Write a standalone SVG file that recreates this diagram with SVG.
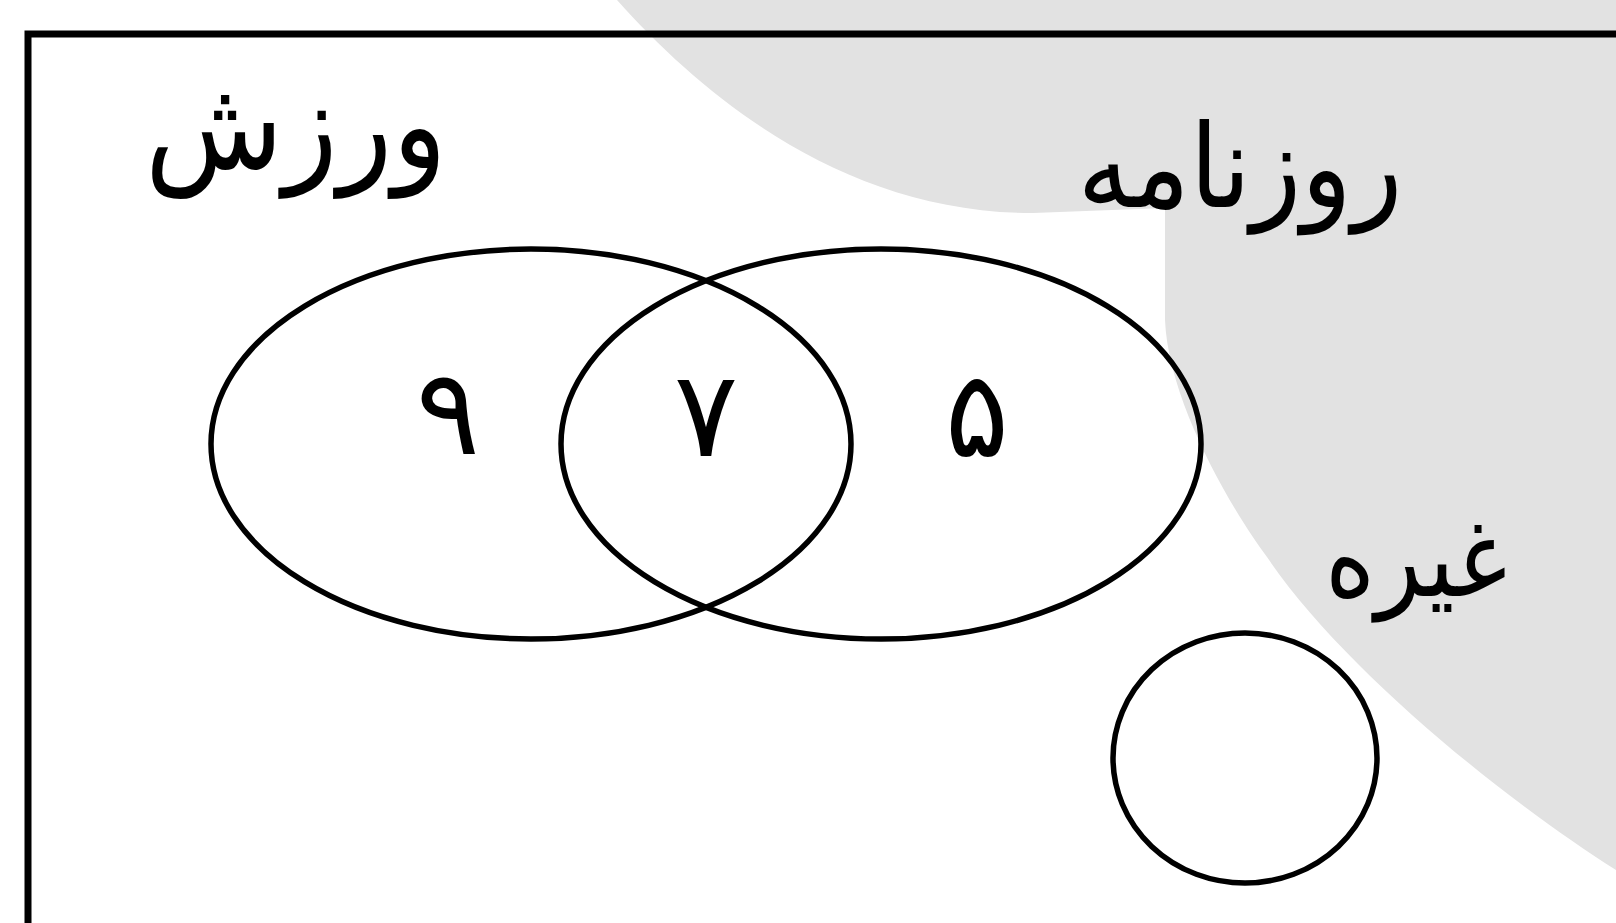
<svg xmlns="http://www.w3.org/2000/svg" width="1616" height="923" viewBox="0 0 1616 923">
  <style>
    .set { fill: none; stroke: #000; stroke-width: 5.5; }
    .frame { fill: none; stroke: #000; stroke-width: 7; stroke-linejoin: miter; }
    .word { font-family: "DejaVu Sans", sans-serif; fill: #000; text-anchor: middle; }
    .num { font-family: "DejaVu Sans", sans-serif; font-size: 120px; fill: #000; text-anchor: middle; }
  </style>

  <!-- page -->
  <rect width="1616" height="923" fill="#ffffff"/>

  <!-- light grey backdrop shape in the upper right -->
  <g id="backdrop">
    <path fill="#e2e2e2" d="M 617,0 C 710,104 850,213 1033,213 L 1165,208 L 1165,320 C 1168,400 1231,509 1267,557 C 1342,668 1505,800 1616,870 L 1616,0 Z"/>
  </g>

  <!-- universal set border -->
  <g id="universe">
    <path class="frame" d="M 28,930 L 28,34 L 1625,34"/>
  </g>

  <!-- set: sport -->
  <g id="set-sport">
    <ellipse class="set" cx="531" cy="444" rx="320" ry="195"/>
    <text class="word" x="296" y="168" font-size="125" textLength="302" lengthAdjust="spacingAndGlyphs">ورزش</text>
    <text class="num" x="448" y="454">۹</text>
  </g>

  <!-- set: newspaper -->
  <g id="set-newspaper">
    <ellipse class="set" cx="881" cy="444" rx="320" ry="195"/>
    <text class="word" x="1240" y="207" font-size="116" textLength="325" lengthAdjust="spacingAndGlyphs">روزنامه</text>
    <text class="num" x="977" y="456">۵</text>
  </g>

  <!-- intersection count -->
  <g id="both">
    <text class="num" x="706" y="456">۷</text>
  </g>

  <!-- set: other -->
  <g id="set-other">
    <ellipse class="set" cx="1245" cy="758" rx="132" ry="125"/>
    <text class="word" x="1416" y="596" font-size="108" textLength="182" lengthAdjust="spacingAndGlyphs">غیره</text>
  </g>
</svg>
